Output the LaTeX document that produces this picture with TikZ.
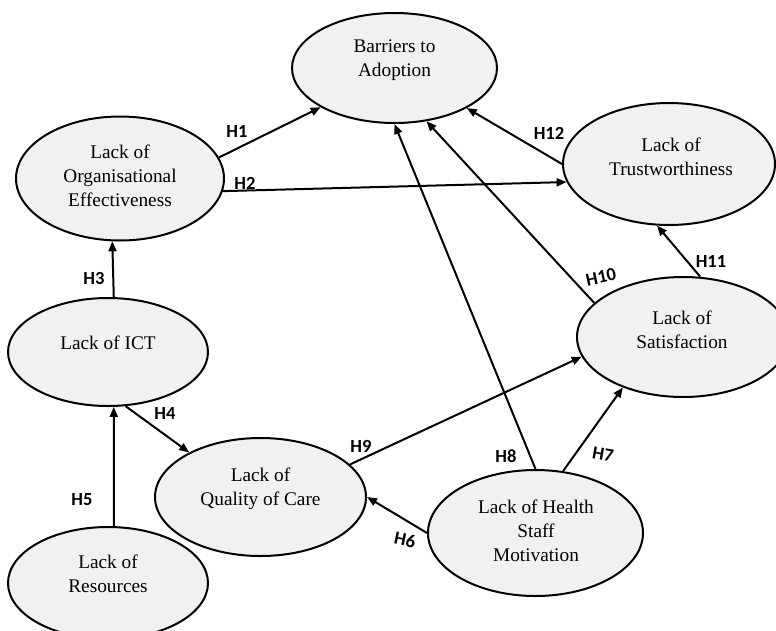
\documentclass[tikz,border=0pt]{standalone}
\usepackage{fontspec}
\setmainfont{Liberation Serif}
\newfontfamily\labfont{Carlito}
\usetikzlibrary{arrows.meta,shapes.geometric}
\definecolor{ellfill}{RGB}{241,241,241}
\begin{document}
\begin{tikzpicture}[x=1pt,y=-1pt,
  ell/.style={draw=black,line width=2pt,fill=ellfill,ellipse,inner sep=0pt},
  txt/.style={align=center,inner sep=0pt,font=\fontsize{19.3}{24}\selectfont},
  hl/.style={inner sep=0pt,font=\labfont\fontsize{18.5}{20}\selectfont\bfseries},
  arr/.style={line width=2pt,-{Triangle[length=10pt,width=8pt]}}]
\useasboundingbox (0,0) rectangle (776,630);
\fill[white] (0,0) rectangle (776,630);
% ellipses
\node[ell,minimum width=205pt,minimum height=110pt] (bar) at (394.5,68) {};
\node[ell,minimum width=208pt,minimum height=124pt] (org) at (120,178.5) {};
\node[ell,minimum width=212pt,minimum height=122pt] (tru) at (669,164) {};
\node[ell,minimum width=200pt,minimum height=108pt] (ict) at (108,352) {};
\node[ell,minimum width=212pt,minimum height=120pt] (sat) at (683,337) {};
\node[ell,minimum width=211pt,minimum height=118pt] (qoc) at (260.5,497) {};
\node[ell,minimum width=215pt,minimum height=126pt] (mot) at (535.5,533) {};
\node[ell,minimum width=200pt,minimum height=112pt] (res) at (108,583) {};
% texts
\node[txt] (bart) at (394.5,60) {Barriers to\\Adoption};
\node[txt] (orgt) at (120,176) {Lack of\\Organisational\\Effectiveness};
\node[txt] (trut) at (671,156.5) {Lack of\\Trustworthiness};
\node[txt] (ictt) at (108,343) {Lack of ICT};
\node[txt] (satt) at (682,329.5) {Lack of\\Satisfaction};
\node[txt] (qoct) at (260.5,488.5) {Lack of\\Quality of Care};
\node[txt] (mott) at (536,531) {Lack of Health\\Staff\\Motivation};
\node[txt] (rest) at (108,574) {Lack of\\Resources};
% connectors
\draw[arr] (org.12) -- (bar.208.8);
\draw[arr] (org.-7.4) -- (tru.190.1);
\draw[arr] (ict.84.7) -- (org.263.6);
\draw[arr] (ict.-72.8) -- (qoc.148.75);
\draw[arr] (res.84.8) -- (ict.-84.8);
\draw[arr] (mot.180) -- (qoc.-0.5);
\draw[arr] (mot.66.1) -- (sat.220.9);
\draw[arr] (mot.90) -- (bar.270);
\draw[arr] (qoc.20.7) -- (sat.191);
\draw[arr] (sat.159.5) -- (bar.-59);
\draw[arr] (sat.74.4) -- (tru.259.2);
\draw[arr] (tru.180) -- (bar.-29.1);
% labels
\node[hl] (h1) at (237,131) {H1};
\node[hl] (h2) at (245,183) {H2};
\node[hl] (h3) at (94,278) {H3};
\node[hl] (h4) at (165,413) {H4};
\node[hl] (h5) at (82,500) {H5};
\node[hl,rotate=-12] (h6) at (405,540) {H6};
\node[hl,rotate=-10] (h7) at (603,454) {H7};
\node[hl] (h8) at (506,456) {H8};
\node[hl] (h9) at (361,446) {H9};
\node[hl,rotate=12] (h10) at (601,277) {H10};
\node[hl] (h11) at (711,261) {H11};
\node[hl] (h12) at (549,133) {H12};
\end{tikzpicture}
\end{document}
